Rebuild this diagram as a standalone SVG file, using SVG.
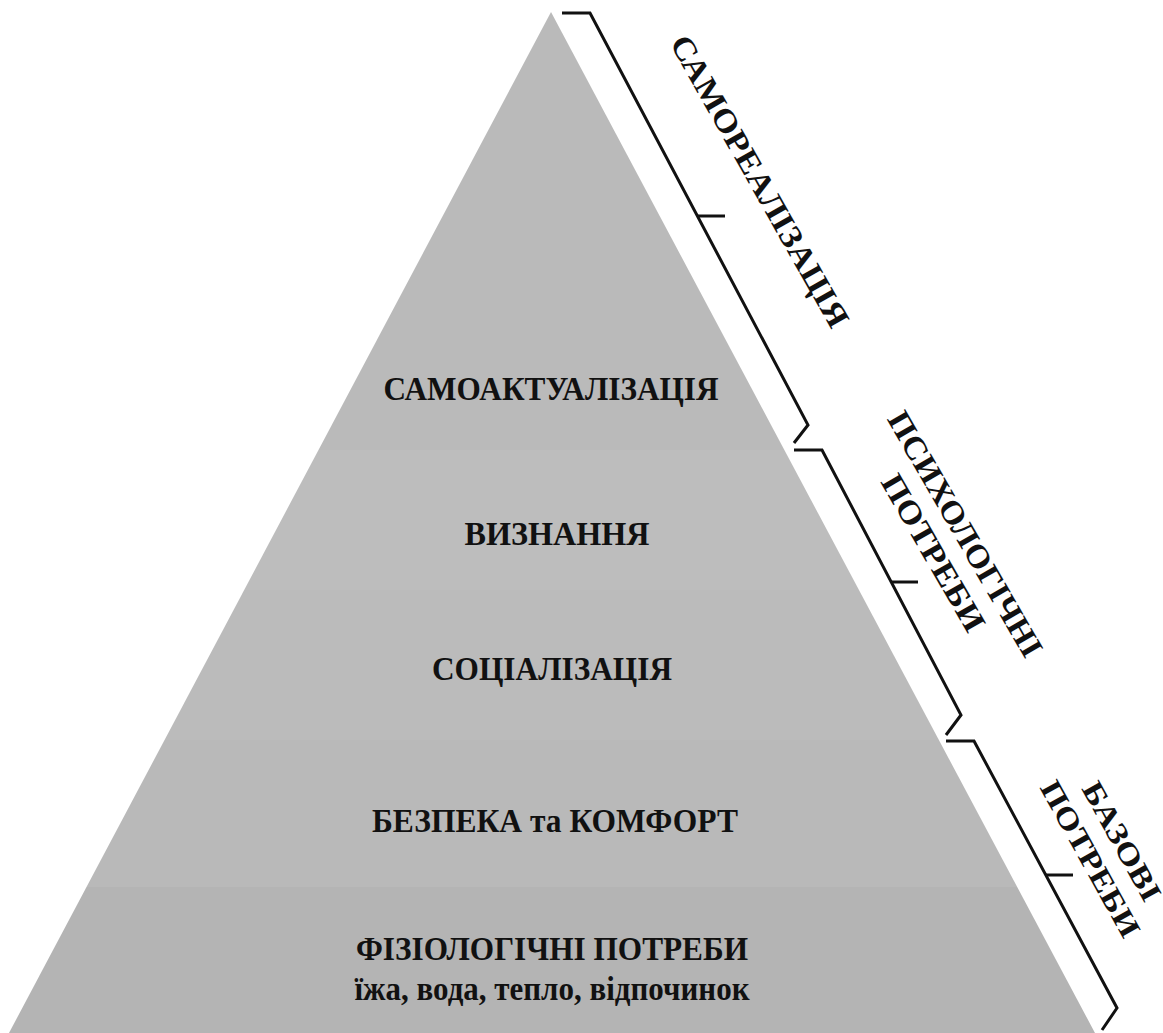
<svg xmlns="http://www.w3.org/2000/svg" width="1163" height="1033" viewBox="0 0 1163 1033">
<style>
.lbl{font-family:"Liberation Serif","Times New Roman",serif;font-weight:bold;fill:#111;text-anchor:middle}
.br{fill:none;stroke:#111;stroke-width:3;stroke-linejoin:miter}
</style>
<defs>
<clipPath id="pyr"><polygon points="551,12 9,1033 1095,1033"/></clipPath>
</defs>
<rect width="1163" height="1033" fill="#fff"/>
<g id="pyramid" clip-path="url(#pyr)">
<rect x="0" y="0" width="1163" height="450" fill="#bababa"/>
<rect x="0" y="450" width="1163" height="140" fill="#bdbdbd"/>
<rect x="0" y="590" width="1163" height="150" fill="#bbbbbb"/>
<rect x="0" y="740" width="1163" height="147" fill="#b9b9b9"/>
<rect x="0" y="887" width="1163" height="146" fill="#b4b4b4"/>
</g>
<g id="level-5"><text class="lbl" x="551" y="400" font-size="34" textLength="335" lengthAdjust="spacingAndGlyphs">САМОАКТУАЛІЗАЦІЯ</text></g>
<g id="level-4"><text class="lbl" x="557" y="545" font-size="34" textLength="185" lengthAdjust="spacingAndGlyphs">ВИЗНАННЯ</text></g>
<g id="level-3"><text class="lbl" x="552" y="680" font-size="34" textLength="240" lengthAdjust="spacingAndGlyphs">СОЦІАЛІЗАЦІЯ</text></g>
<g id="level-2"><text class="lbl" x="555" y="832" font-size="34" textLength="366" lengthAdjust="spacingAndGlyphs">БЕЗПЕКА та КОМФОРТ</text></g>
<g id="level-1">
<text class="lbl" x="552" y="960" font-size="34" textLength="392" lengthAdjust="spacingAndGlyphs">ФІЗІОЛОГІЧНІ ПОТРЕБИ</text>
<text class="lbl" x="552" y="1000" font-size="34" textLength="395" lengthAdjust="spacingAndGlyphs">їжа, вода, тепло, відпочинок</text>
</g>
<g id="connectors">
<path class="br" d="M562,13 L590,13 L808,425 L794,443"/>
<path class="br" d="M697,216 L725,216"/>
<path class="br" d="M794,450 L822,450 L961,715 L946,735"/>
<path class="br" d="M892,582 L918,582"/>
<path class="br" d="M946,741 L974,741 L1117,1008 L1102,1030"/>
<path class="br" d="M1046,875 L1073,875"/>
</g>
<g id="group-self-realization" transform="translate(760,181) rotate(60.5)">
<text class="lbl" x="0" y="11" font-size="32" textLength="330" lengthAdjust="spacingAndGlyphs">САМОРЕАЛІЗАЦІЯ</text>
</g>
<g id="group-psychological" transform="translate(950,543) rotate(60)">
<text class="lbl" x="0" y="-7" font-size="32" textLength="278" lengthAdjust="spacingAndGlyphs">ПСИХОЛОГІЧНІ</text>
<text class="lbl" x="0" y="30" font-size="32" textLength="176" lengthAdjust="spacingAndGlyphs">ПОТРЕБИ</text>
</g>
<g id="group-basic" transform="translate(1106,850) rotate(61)">
<text class="lbl" x="0" y="-8" font-size="30" textLength="132" lengthAdjust="spacingAndGlyphs">БАЗОВІ</text>
<text class="lbl" x="0" y="28" font-size="30" textLength="174" lengthAdjust="spacingAndGlyphs">ПОТРЕБИ</text>
</g>
</svg>
